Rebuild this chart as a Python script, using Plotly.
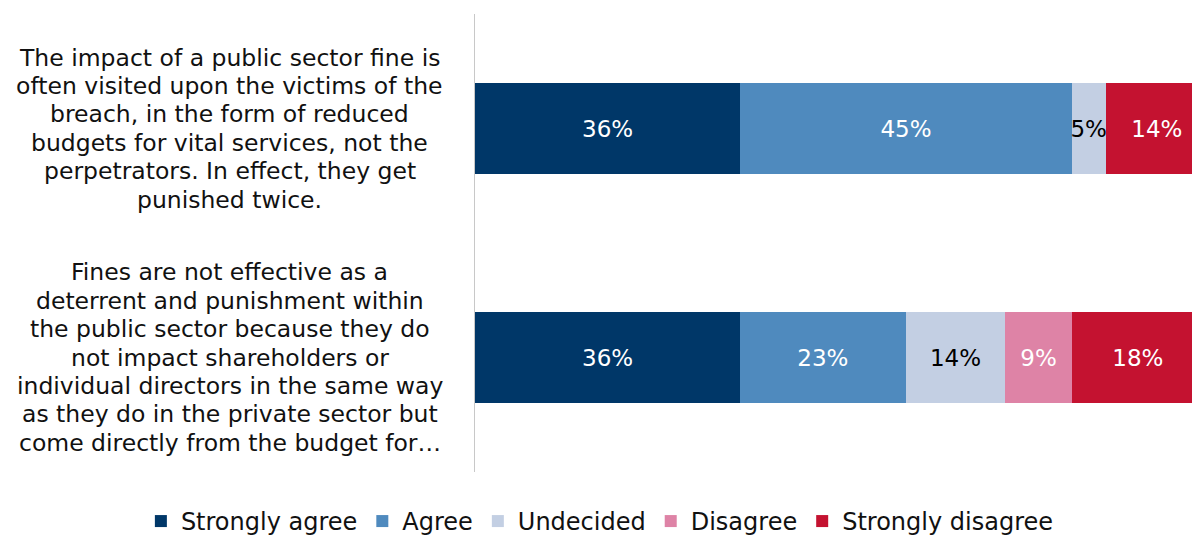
import plotly.graph_objects as go

statements = [
    ["The impact of a public sector fine is",
     "often visited upon the victims of the",
     "breach, in the form of reduced",
     "budgets for vital services, not the",
     "perpetrators. In effect, they get",
     "punished twice."],
    ["Fines are not effective as a",
     "deterrent and punishment within",
     "the public sector because they do",
     "not impact shareholders or",
     "individual directors in the same way",
     "as they do in the private sector but",
     "come directly from the budget for…"],
]
categories = ["Q1", "Q2"]

series_names = ["Strongly agree", "Agree", "Undecided", "Disagree", "Strongly disagree"]
values = {
    "Strongly agree":    [36.2, 36.2],
    "Agree":             [45.3, 22.6],
    "Undecided":         [4.6, 13.6],
    "Disagree":          [0.0, 9.1],
    "Strongly disagree": [14.0, 18.0],
}
labels = {
    "Strongly agree":    ["36%", "36%"],
    "Agree":             ["45%", "23%"],
    "Undecided":         ["5%", "14%"],
    "Disagree":          ["", "9%"],
    "Strongly disagree": ["14%", "18%"],
}
colors = {
    "Strongly agree": "#003768",
    "Agree": "#4F8ABE",
    "Undecided": "#C3CFE3",
    "Disagree": "#DE83A6",
    "Strongly disagree": "#C41230",
}
text_colors = {
    "Strongly agree": "white",
    "Agree": "white",
    "Undecided": "black",
    "Disagree": "white",
    "Strongly disagree": "white",
}

FONT = "DejaVu Sans"
fig = go.Figure()
for name in series_names:
    fig.add_trace(go.Bar(
        y=categories, x=values[name], name=name, orientation="h",
        marker=dict(color=colors[name], line=dict(width=0)),
        text=labels[name], textposition="inside", insidetextanchor="middle",
        textangle=0, constraintext="none",
        textfont=dict(family=FONT, size=23, color=text_colors[name]),
        width=0.4,
    ))

annotations = []
LINE = 28.4
for cat, lines in zip(categories, statements):
    n = len(lines)
    for i, line in enumerate(lines):
        annotations.append(dict(
            xref="paper", yref="y", x=-0.342, y=cat, text=line,
            showarrow=False, xanchor="center", yanchor="middle",
            yshift=-(i - (n - 1) / 2) * LINE,
            font=dict(family=FONT, size=23.5, color="#111111"),
        ))

fig.update_layout(
    barmode="stack",
    width=1192, height=538,
    margin=dict(l=475, r=0, t=14, b=66, autoexpand=False),
    paper_bgcolor="white", plot_bgcolor="white",
    font=dict(family=FONT, size=20, color="#111111"),
    showlegend=True,
    legend=dict(orientation="h", x=-0.466, xanchor="left",
                y=-0.108, yanchor="middle",
                font=dict(family=FONT, size=24, color="#111111"),
                itemwidth=30, traceorder="normal"),
    uniformtext=dict(mode=False),
    annotations=annotations,
)
fig.update_xaxes(range=[0, 97.9], visible=False, showgrid=False, zeroline=False)
fig.update_yaxes(autorange="reversed", showticklabels=False, showgrid=False,
                 showline=True, linecolor="#c8c8c8", linewidth=1, ticks="",
                 zeroline=False)

fig.write_html("out.html")
